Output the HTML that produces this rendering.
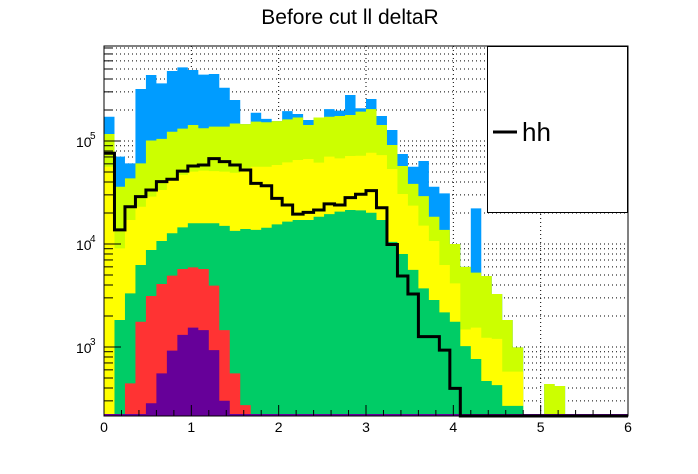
<!DOCTYPE html>
<html><head><meta charset="utf-8">
<style>
html,body{margin:0;padding:0;background:#fff;}
svg{display:block;font-family:"Liberation Sans",sans-serif;}
</style></head>
<body>
<svg id="c" width="698" height="474" viewBox="0 0 698 474">
<text x="350" y="24" font-size="21" text-anchor="middle">Before cut ll deltaR</text>
<g id="grid"></g>
<g id="hists"></g>
<g id="legend"></g>
<g id="axes"></g>
</svg>
<script>
const binEdgesMin = 0, binEdgesMax = 6, nBins = 50;
const xTickLabels = ["0","1","2","3","4","5","6"];
const yTickExps = [3,4,5];
const blueTotal = [1.72e5,7.05e4,6.07e4,3.2e5,4.37e5,3.63e5,4.78e5,5.19e5,4.89e5,4.41e5,4.47e5,3.29e5,2.5e5,1.46e5,1.88e5,1.64e5,1.56e5,1.95e5,1.83e5,1.6e5,1.69e5,2.04e5,1.97e5,2.8e5,2.08e5,2.56e5,1.75e5,1.28e5,7.48e4,5.63e4,6.4e4,3.6e4,3.1e4,1.0e4,6.0e3,2.22e4,4.89e3,3.27e3,1.83e3,993,0,0,437,418,0,0,0,0,0,0];
const limeTotal = [1.17e5,3.6e4,4.34e4,6.07e4,1.01e5,1.05e5,1.23e5,1.32e5,1.43e5,1.33e5,1.38e5,1.38e5,1.48e5,1.46e5,1.54e5,1.52e5,1.56e5,1.62e5,1.69e5,1.43e5,1.69e5,1.72e5,1.75e5,1.79e5,1.93e5,2.04e5,1.43e5,9.15e4,5.72e4,3.83e4,2.92e4,1.84e4,1.37e4,1.0e4,6.0e3,5.27e3,4.89e3,3.27e3,1.83e3,993,0,0,437,418,0,0,0,0,0,0];
const yellowTotal = [5.63e4,9.08e3,1.71e4,2.3e4,2.88e4,3.34e4,4.18e4,4.68e4,5.04e4,5.15e4,5.1e4,5.04e4,4.92e4,5.43e4,5.63e4,5.63e4,5.85e4,6.2e4,6.54e4,6.69e4,6.16e4,7.05e4,6.79e4,7.15e4,7.2e4,7.7e4,7.3e4,5.35e4,3.06e4,2.36e4,1.51e4,1.07e4,6.25e3,4.15e3,1.48e3,1.54e3,1.23e3,1.2e3,577,577,0,0,0,0,0,0,0,0,0,0];
const greenTotal = [0,1.83e3,3.32e3,6.26e3,8.75e3,1.07e4,1.27e4,1.45e4,1.59e4,1.59e4,1.59e4,1.5e4,1.34e4,1.4e4,1.37e4,1.44e4,1.55e4,1.65e4,1.71e4,1.71e4,1.84e4,1.95e4,2.06e4,2.14e4,2.12e4,2.01e4,1.71e4,1.05e4,8.0e3,5.6e3,3.71e3,2.86e3,2.17e3,1.76e3,1.02e3,765,468,427,268,268,0,0,0,0,0,0,0,0,0,0];
const redTotal = [0,0,444,1.76e3,3.13e3,4.09e3,4.93e3,5.72e3,5.93e3,5.72e3,3.94e3,1.46e3,555,273,0,0,0,0,0,0,0,0,0,0,0,0,0,0,0,0,0,0,0,0,0,0,0,0,0,0,0,0,0,0,0,0,0,0,0,0];
const purpleTotal = [0,0,0,0,284,555,922,1.31e3,1.54e3,1.46e3,933,301,0,0,0,0,0,0,0,0,0,0,0,0,0,0,0,0,0,0,0,0,0,0,0,0,0,0,0,0,0,0,0,0,0,0,0,0,0,0];
const hhValues = [7.6e4,1.37e4,2.3e4,2.88e4,3.34e4,4.03e4,4.25e4,5.1e4,5.72e4,5.85e4,6.74e4,6.3e4,5.85e4,5.23e4,3.88e4,3.68e4,2.77e4,2.39e4,1.95e4,2.03e4,2.14e4,2.45e4,2.39e4,2.82e4,3.04e4,3.3e4,2.25e4,9.9e3,4.89e3,3.27e3,1.26e3,1.26e3,933,397,0,0,0,0,0,0,0,0,0,0,0,0,0,0,0,0];

const NS="http://www.w3.org/2000/svg";
const X0=104,X1=628,Y0=46,Y1=416;
function xs(v){return X0+(v-binEdgesMin)/(binEdgesMax-binEdgesMin)*(X1-X0);}
function ys(v){ if(v<=0) return Y1; const y=141-(Math.log10(v)-5)*103; return Math.max(Y0,Math.min(Y1,y)); }
function mk(tag,attrs,parent){const e=document.createElementNS(NS,tag);for(const k in attrs)e.setAttribute(k,attrs[k]);parent.appendChild(e);return e;}
const bw=(binEdgesMax-binEdgesMin)/nBins;

const grid=document.getElementById('grid');
for(let i=1;i<xTickLabels.length-1;i++){
  const x=xs(+xTickLabels[i]);
  const l=mk('line',{x1:x,x2:x,y1:Y0,y2:Y1,stroke:'#000','stroke-width':1,'stroke-dasharray':'1,3'},grid);
  
  
}
for(let e=2;e<=5;e++){for(let m=1;m<=9;m++){
  const v=m*Math.pow(10,e); const y=141-(Math.log10(v)-5)*103;
  if(y<=Y0||y>=Y1) continue;
  const l=mk('line',{x1:X0,x2:X1,y1:y,y2:y,stroke:'#000','stroke-width':1,'stroke-dasharray':'1,3'},grid);
  
  
}}

const hists=document.getElementById('hists');
function stepPath(arr){
  let d='M'+xs(binEdgesMin)+','+Y1;
  for(let i=0;i<arr.length;i++){const y=ys(arr[i]);d+=' L'+xs(binEdgesMin+i*bw)+','+y+' L'+xs(binEdgesMin+(i+1)*bw)+','+y;}
  d+=' L'+xs(binEdgesMax)+','+Y1+' Z';return d;
}
const layers=[['blue-stack',blueTotal,'#009cff'],['lime-stack',limeTotal,'#ccff00'],['yellow-stack',yellowTotal,'#ffff00'],['green-stack',greenTotal,'#00cc66'],['red-stack',redTotal,'#ff3333'],['purple-stack',purpleTotal,'#660099']];
for(const [nm,arr,col] of layers){
  const p=mk('path',{d:stepPath(arr),fill:col,stroke:'none'},hists);
  
  
}
const pl=mk('line',{x1:X0,x2:X1,y1:Y1-1,y2:Y1-1,stroke:'#660099','stroke-width':2},hists);


let pts=[];
for(let i=0;i<hhValues.length;i++){const y=ys(hhValues[i]);pts.push(xs(binEdgesMin+i*bw)+','+y);pts.push(xs(binEdgesMin+(i+1)*bw)+','+y);}
const hh=mk('polyline',{points:pts.join(' '),fill:'none',stroke:'#000','stroke-width':3},hists);



const lg=document.getElementById('legend');
const lb=mk('rect',{x:487.5,y:46.5,width:140,height:166,fill:'#fff',stroke:'#000','stroke-width':1},lg);


const ll=mk('line',{x1:493,x2:517,y1:132,y2:132,stroke:'#000','stroke-width':3},lg);


const lt=mk('text',{x:522,y:141,'font-size':26},lg);lt.textContent='hh';



const ax=document.getElementById('axes');
const fr=mk('rect',{x:X0,y:Y0,width:X1-X0,height:Y1-Y0,fill:'none',stroke:'#000','stroke-width':1},ax);


for(let t=0;t<=30;t++){
  const v=t*0.2, x=xs(v), major=(t%5===0);
  const l=mk('line',{x1:x,x2:x,y1:Y1,y2:Y1-(major?11:6),stroke:'#000','stroke-width':1},ax);
  
  
}
for(let i=0;i<xTickLabels.length;i++){
  const t=mk('text',{x:xs(+xTickLabels[i]),y:432,'font-size':14,'text-anchor':'middle'},ax);t.textContent=xTickLabels[i];
  
  
}
for(let e=2;e<=5;e++){for(let m=1;m<=9;m++){
  const v=m*Math.pow(10,e); const y=141-(Math.log10(v)-5)*103;
  if(y<Y0||y>Y1) continue;
  const l=mk('line',{x1:X0,x2:X0+(m===1?17:9),y1:y,y2:y,stroke:'#000','stroke-width':1},ax);
  
  
}}
for(const e of yTickExps){
  const y=ys(Math.pow(10,e));
  const t=mk('text',{x:76,y:y+6,'font-size':14},ax);
  
  
  t.textContent='10';
  const s=mk('text',{x:90,y:y-2,'font-size':10},ax);s.textContent=String(e);
  
  
}
</script>
</body></html>
